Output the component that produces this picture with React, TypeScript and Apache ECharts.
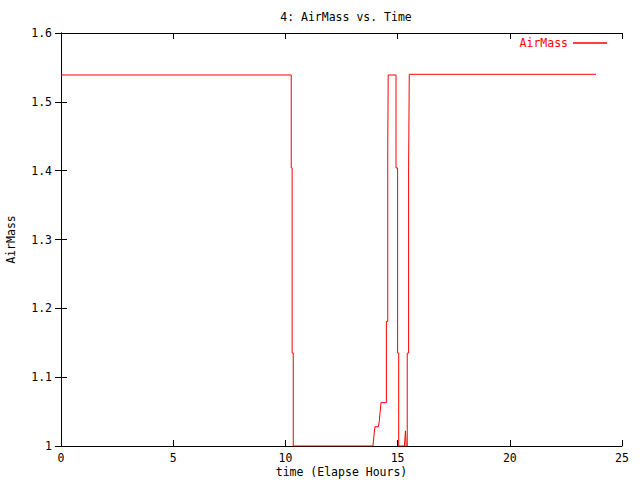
import React, { useEffect, useRef } from "react";
import * as echarts from "echarts";

const timeHours: number[] = [
  0, 10.26, 10.26, 10.3, 10.3, 10.35, 10.35, 13.9, 13.96, 13.99, 14.14, 14.18,
  14.26, 14.5, 14.5, 14.56, 14.56, 14.58, 14.58, 14.93, 14.93, 15.0, 15.0,
  15.05, 15.05, 15.3, 15.33, 15.35, 15.38, 15.43, 15.43, 15.49, 15.49, 15.52,
  15.52, 23.84,
];
const airMass: number[] = [
  1.539, 1.539, 1.404, 1.404, 1.135, 1.135, 1.0, 1.0, 1.019, 1.028, 1.028,
  1.035, 1.063, 1.063, 1.181, 1.181, 1.42, 1.42, 1.539, 1.539, 1.404, 1.404,
  1.135, 1.135, 1.0, 1.0, 1.012, 1.022, 1.0, 1.0, 1.135, 1.135, 1.404, 1.404,
  1.54, 1.54,
];
const seriesName = "AirMass";
const titleText = "4: AirMass vs. Time";
const xName = "time (Elapse Hours)";
const yName = "AirMass";

const FONT = "'DejaVu Sans Mono', monospace";

export default function App() {
  const ref = useRef<HTMLDivElement>(null);
  useEffect(() => {
    if (!ref.current) return;
    const chart = echarts.init(ref.current, undefined, { renderer: "svg" });
    const axisLine = { show: true, lineStyle: { color: "#000", width: 1 } };
    const tick = { show: true, inside: true, length: 6, lineStyle: { color: "#000" } };
    const textStyle = { color: "#000", fontFamily: FONT, fontSize: 11.5 };
    chart.setOption({
      animation: false,
      backgroundColor: "#fff",
      title: {
        text: titleText,
        left: 341,
        textAlign: "center",
        top: 6,
        textStyle: { ...textStyle, fontWeight: "normal" },
      },
      legend: {
        right: 33,
        top: 37,
        align: "right",
        icon: "rect",
        itemWidth: 34,
        itemHeight: 1.5,
        itemGap: 6,
        padding: 0,
        textStyle: { ...textStyle, color: "#ff0000" },
        data: [seriesName],
      },
      grid: { left: 61, right: 18, top: 33, bottom: 34, containLabel: false, outerBoundsMode: "none" },
      xAxis: [
        {
          type: "value",
          min: 0,
          max: 25,
          interval: 5,
          axisLine,
          axisTick: tick,
          splitLine: { show: false },
          axisLabel: { ...textStyle, margin: 6 },
          name: xName,
          nameLocation: "middle",
          nameGap: 20,
          nameMoveOverlap: false,
          nameTextStyle: textStyle,
        },
        {
          type: "value",
          position: "top",
          min: 0,
          max: 25,
          interval: 5,
          axisLine,
          axisTick: tick,
          splitLine: { show: false },
          axisLabel: { show: false },
        },
      ],
      yAxis: [
        {
          type: "value",
          min: 1,
          max: 1.6,
          interval: 0.1,
          axisLine,
          axisTick: tick,
          splitLine: { show: false },
          axisLabel: {
            ...textStyle,
            margin: 9,
            formatter: (v: number) => String(parseFloat(v.toFixed(1))),
          },
          name: yName,
          nameLocation: "middle",
          nameGap: 44,
          nameMoveOverlap: false,
          nameRotate: 90,
          nameTextStyle: textStyle,
        },
        {
          type: "value",
          position: "right",
          min: 1,
          max: 1.6,
          interval: 0.1,
          axisLine,
          axisTick: tick,
          splitLine: { show: false },
          axisLabel: { show: false },
        },
      ],
      series: [
        {
          name: seriesName,
          type: "line",
          xAxisIndex: 0,
          yAxisIndex: 0,
          showSymbol: false,
          symbol: "none",
          color: "#ff0000",
          lineStyle: { color: "#ff0000", width: 1 },
          data: timeHours.map((t, i) => [t, airMass[i]]),
        },
      ],
    });
    return () => chart.dispose();
  }, []);
  return <div ref={ref} style={{ width: 640, height: 480, position: "absolute", left: 0, top: 0 }} />;
}
